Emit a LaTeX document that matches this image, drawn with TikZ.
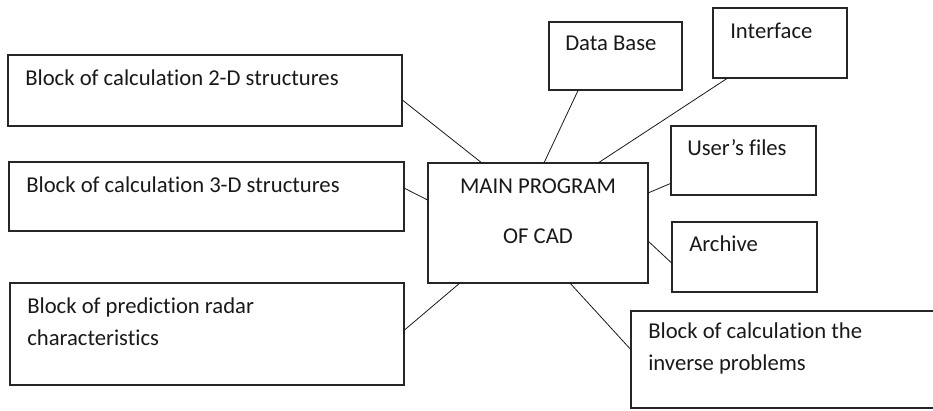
\documentclass[tikz,border=0pt]{standalone}
\usepackage{fontspec}
\setmainfont{Carlito}[Ligatures=NoCommon]
\usetikzlibrary{calc}
\begin{document}
\begin{tikzpicture}[x=0.75pt,y=-0.75pt,
  blk/.style={draw=black!85,line width=1.2pt,inner sep=0pt,outer sep=0pt},
  txt/.style={anchor=base west,inner sep=0pt,font=\fontsize{17}{20}\selectfont,text=black!90},
  ctxt/.style={anchor=base,inner sep=0pt,font=\fontsize{17}{20}\selectfont,text=black!90},
  link/.style={draw=black!90,line width=0.6pt}]
\useasboundingbox (0,0) rectangle (933,411);
\clip (0,0) rectangle (933,411);
% boxes
\node[blk,minimum width=394*0.75pt,minimum height=71*0.75pt] (b1) at (205,90.5) {};
\node[blk,minimum width=395*0.75pt,minimum height=69*0.75pt] (b2) at (206.5,196.5) {};
\node[blk,minimum width=394*0.75pt,minimum height=102*0.75pt] (b3) at (207,334) {};
\node[blk,minimum width=133*0.75pt,minimum height=68*0.75pt] (db) at (615.5,56) {};
\node[blk,minimum width=134*0.75pt,minimum height=70*0.75pt] (ifc) at (780,43) {};
\node[blk,minimum width=145*0.75pt,minimum height=69*0.75pt] (uf) at (743.5,160.5) {};
\node[blk,minimum width=220*0.75pt,minimum height=120*0.75pt] (main) at (538,223) {};
\node[blk,minimum width=145*0.75pt,minimum height=70*0.75pt] (arc) at (744.5,257) {};
\node[blk,minimum width=320*0.75pt,minimum height=97*0.75pt,anchor=north west] (inv) at (631,311) {};
% texts
\node[txt] (t1) at (25,85) {Block of calculation 2-D structures};
\node[txt] (t2) at (26,192) {Block of calculation 3-D structures};
\node[txt] (t3a) at (27,313) {Block of prediction radar};
\node[txt] (t3b) at (27,345) {characteristics};
\node[txt] (tdb) at (565,50) {Data Base};
\node[txt] (tif) at (730,38) {Interface};
\node[txt] (tuf) at (687,155) {User’s files};
\node[ctxt] (tm1) at (538,193) {MAIN PROGRAM};
\node[ctxt] (tm2) at (538,243) {OF CAD};
\node[txt] (tar) at (689,251) {Archive};
\node[txt] (ti1) at (648,338) {Block of calculation the};
\node[txt] (ti2) at (648,370) {inverse problems};
% connectors
\draw[link] ($(b1.north east)!0.63!(b1.south east)$) -- ($(main.north west)!0.245!(main.north east)$);
\draw[link] ($(db.south west)!0.22!(db.south east)$) -- ($(main.north west)!0.527!(main.north east)$);
\draw[link] ($(ifc.south west)!0.11!(ifc.south east)$) -- ($(main.north west)!0.773!(main.north east)$);
\draw[link] ($(b2.north east)!0.377!(b2.south east)$) -- ($(main.north west)!0.31!(main.south west)$);
\draw[link] ($(main.north east)!0.25!(main.south east)$) -- ($(uf.north west)!0.83!(uf.south west)$);
\draw[link] ($(main.north east)!0.65!(main.south east)$) -- ($(arc.north west)!0.59!(arc.south west)$);
\draw[link] ($(b3.north east)!0.465!(b3.south east)$) -- ($(main.south west)!0.145!(main.south east)$);
\draw[link] ($(main.south west)!0.645!(main.south east)$) -- ($(inv.north west)!0.40!(inv.south west)$);
\end{tikzpicture}
\end{document}
